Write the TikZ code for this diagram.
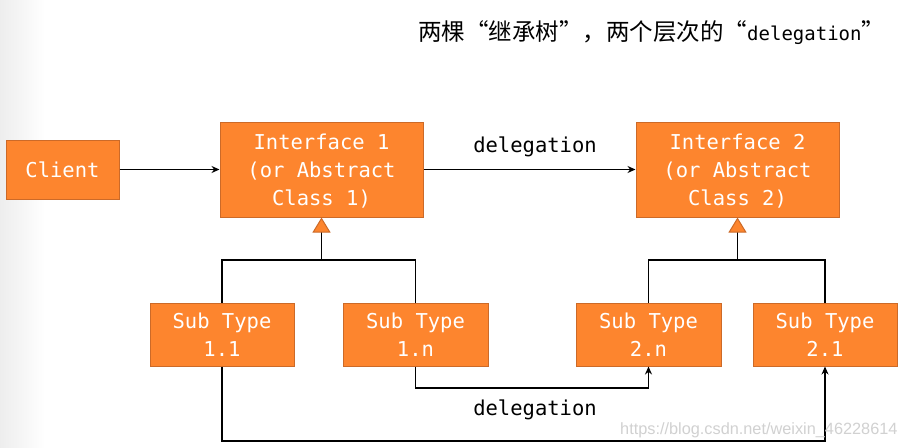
\documentclass[tikz,border=0pt]{standalone}
\usepackage{fontspec}
\setmonofont{DejaVu Sans Mono}
\newfontfamily\cjk{Noto Sans CJK SC}
\newfontfamily\wmfont{Liberation Sans}
\usetikzlibrary{arrows.meta}
\definecolor{boxfill}{HTML}{FD852E}
\definecolor{boxline}{HTML}{CC6A28}
\tikzset{
  umlbox/.style={rectangle, draw=boxline, line width=1pt, fill=boxfill, text=white,
    font=\fontsize{20.5}{28}\ttfamily, align=center, inner sep=0pt},
  conn/.style={draw=black, line width=1.7pt},
  callarrow/.style={conn, -{Stealth[length=8pt,width=7pt]}},
  inherit/.style={conn, -{Triangle[length=15pt,width=18pt,fill=boxfill,color=boxline,line width=1pt]}},
  lbl/.style={font=\fontsize{20.5}{24}\ttfamily, text=black, inner sep=0pt}
}
\begin{document}
\begin{tikzpicture}[x=1pt,y=-1pt]
\useasboundingbox (0,0) rectangle (902,447);
\fill[white] (0,0) rectangle (902,447);
\shade[left color=black!7, right color=white] (0,0) rectangle (45,447);

\node[anchor=base west, inner sep=0pt] (title) at (418,40)
  {{\cjk\fontsize{23.5}{26}\selectfont 两棵“继承树”，两个层次的“}{\fontsize{19}{26}\ttfamily delegation}{\cjk\fontsize{23.5}{26}\selectfont ”}};

\node[umlbox, minimum width=113pt, minimum height=59pt] (client) at (62.5,169.5) {Client};
\node[umlbox, text depth=0pt, minimum width=203pt, minimum height=95pt] (if1) at (321.5,169.5) {Interface 1\\(or Abstract\\Class 1)};
\node[umlbox, text depth=0pt, minimum width=203pt, minimum height=95pt] (if2) at (737.5,169.5) {Interface 2\\(or Abstract\\Class 2)};
\node[umlbox, minimum width=144pt, minimum height=63pt] (s11) at (222,334.5) {Sub Type\\1.1};
\node[umlbox, minimum width=145pt, minimum height=63pt] (s1n) at (415.5,334.5) {Sub Type\\1.n};
\node[umlbox, minimum width=145pt, minimum height=63pt] (s2n) at (648.5,334.5) {Sub Type\\2.n};
\node[umlbox, minimum width=144pt, minimum height=63pt] (s21) at (825,334.5) {Sub Type\\2.1};

% calls
\draw[callarrow] (client) -- (if1);
\draw[callarrow] (if1) -- (if2);
\node[lbl] (dl1) at (535,147) {delegation};

% inheritance trees
\coordinate (j1) at (321.5,260);
\coordinate (j2) at (737.5,260);
\draw[conn] (s11.north) |- (j1) -| (s1n.north);
\draw[inherit] (j1) -- (if1.south);
\draw[conn] (s2n.north) |- (j2) -| (s21.north);
\draw[inherit] (j2) -- (if2.south);

% lower delegation
\coordinate (b1) at (415.5,388);
\coordinate (b2) at (222,441);
\draw[callarrow] (s1n.south) -- (b1) -| (s2n.south);
\draw[callarrow] (s11.south) -- (b2) -| (s21.south);
\node[lbl] (dl2) at (535,410) {delegation};

\node[anchor=base west, inner sep=0pt, text=black!18, font=\wmfont\fontsize{16.3}{18}\selectfont] (wm) at (620,434) {https://blog.csdn.net/weixin\_46228614};
\end{tikzpicture}
\end{document}
